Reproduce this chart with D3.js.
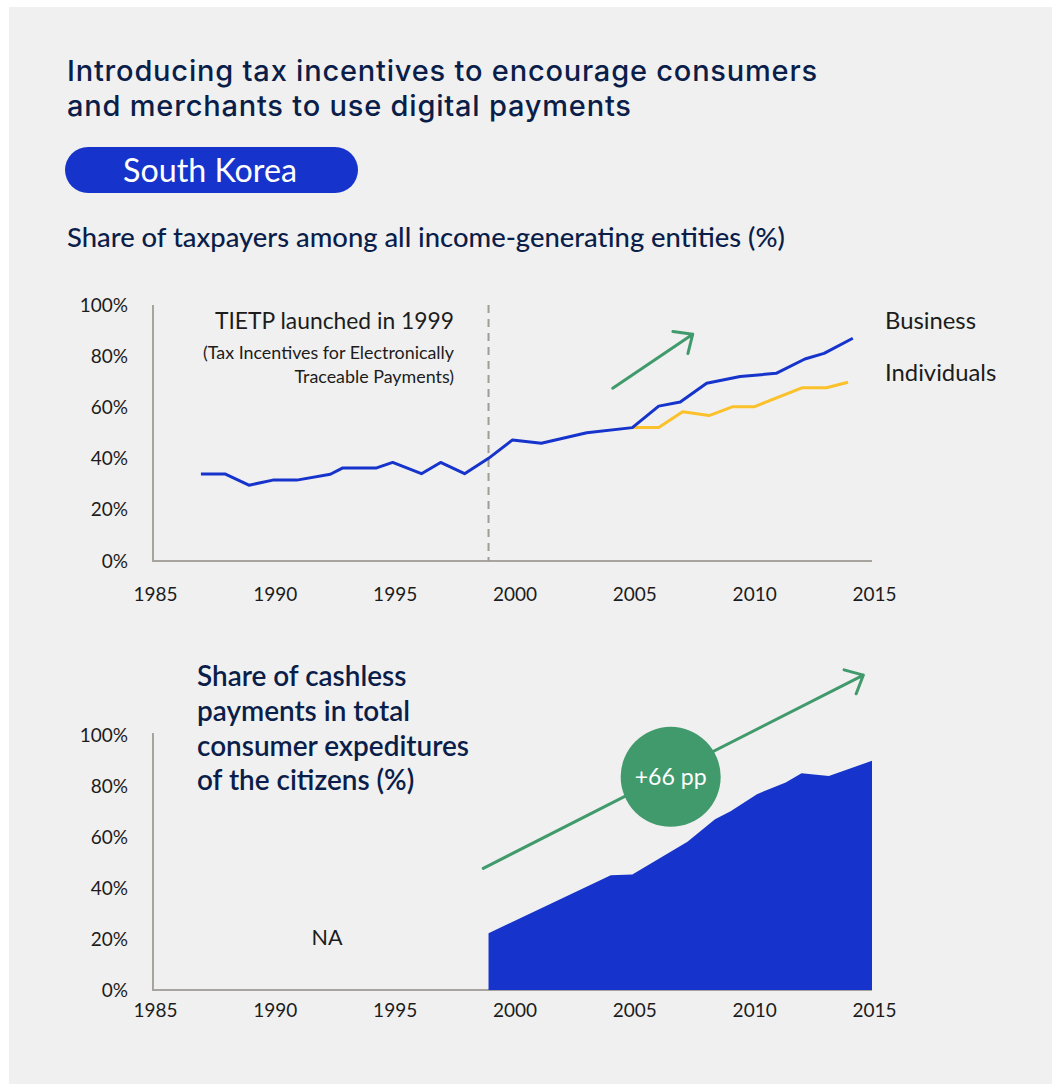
<!DOCTYPE html>
<html>
<head>
<meta charset="utf-8">
<script src="https://cdn.jsdelivr.net/npm/d3@7/dist/d3.min.js"></script>
<style>
  html, body { margin: 0; padding: 0; background: #ffffff; }
  svg { display: block; }
  text { font-family: Lato, "Noto Sans", sans-serif; }
</style>
</head>
<body>
<svg id="chart" width="1052" height="1084"></svg>
<script>
// ---------- DATA ----------
const xTicks = [1985, 1990, 1995, 2000, 2005, 2010, 2015];
const yTicks = [0, 20, 40, 60, 80, 100];

const businessYears = [1987, 1988, 1989, 1990, 1991, 1992.4, 1992.9, 1994.3, 1995, 1996.2, 1997, 1998, 1999, 2000, 2001.2, 2003.1, 2005, 2006.1, 2007, 2008.1, 2009.5, 2011, 2012.2, 2013, 2014.2];
const businessValues = [34, 34, 29.6, 31.6, 31.6, 33.9, 36.3, 36.3, 38.5, 34.1, 38.5, 34.1, 40.1, 47.3, 46, 50.1, 52.1, 60.5, 62.1, 69.4, 72.1, 73.3, 78.9, 81.1, 87];

const individualYears = [2005, 2006.1, 2007.1, 2008.2, 2009.2, 2010.1, 2012.1, 2013.1, 2014];
const individualValues = [52.1, 52.1, 58.3, 56.8, 60.3, 60.3, 67.7, 67.7, 69.8];

const cashlessYears = [1999, 2004.1, 2005, 2007.3, 2008.45, 2009.1, 2010.2, 2011.4, 2012.06, 2013.2, 2015];
const cashlessValues = [22.3, 45, 45.3, 58.1, 67, 70.1, 76.8, 81.4, 85, 83.9, 89.9];

const launchYear = 1999;
const growthLabel = "+66 pp";

// ---------- STYLE ----------
const NAVY = "#0b1e4a";
const BLUE = "#1634cc";
const YELLOW = "#fbc12a";
const GREEN = "#419a6c";
const AXIS = "#a7a39f";
const INK = "#1c1c1c";

const svg = d3.select("#chart");

// card background
svg.append("rect").attr("x", 9).attr("y", 7).attr("width", 1043).attr("height", 1077).attr("fill", "#f0f0f0");

function fit(sel, target) {
  const fs = parseFloat(sel.attr("font-size"));
  const w = sel.node().getComputedTextLength();
  if (w > 0) sel.attr("font-size", (fs * target / w).toFixed(2));
  return parseFloat(sel.attr("font-size"));
}

// ---------- TITLE ----------
const t1 = svg.append("text").attr("x", 67).attr("y", 81).attr("fill", NAVY)
  .style("font-family", "Inter, Roboto, Lato, sans-serif")
  .attr("font-size", 29).attr("font-weight", 500).text("Introducing tax incentives to encourage consumers");
const w1 = t1.node().getComputedTextLength();
const titleLS = Math.max(0, Math.min(0.8, (755 - w1) / t1.text().length));
t1.attr("letter-spacing", titleLS.toFixed(3));
svg.append("text").attr("x", 67).attr("y", 116).attr("fill", NAVY)
  .style("font-family", "Inter, Roboto, Lato, sans-serif")
  .attr("font-size", 29).attr("font-weight", 500).attr("letter-spacing", titleLS.toFixed(3))
  .text("and merchants to use digital payments");

// pill
svg.append("rect").attr("x", 65).attr("y", 147).attr("width", 293).attr("height", 46).attr("rx", 23).attr("fill", BLUE);
const pill = svg.append("text").attr("x", 210).attr("y", 182).attr("text-anchor", "middle").attr("fill", "#ffffff")
  .attr("font-size", 28).attr("font-weight", 400).text("South Korea");
fit(pill, 174);

const sub = svg.append("text").attr("x", 67).attr("y", 247).attr("fill", NAVY)
  .attr("font-size", 21).attr("font-weight", 500).text("Share of taxpayers among all income-generating entities (%)");
fit(sub, 718);

// ---------- SCALES ----------
const x = d3.scaleLinear().domain([1985, 2015]).range([153, 872]);
const yTop = d3.scaleLinear().domain([0, 100]).range([561, 305]);
const yBot = d3.scaleLinear().domain([0, 100]).range([990, 735]);

function drawAxes(y, yTopPix, xPad) {
  const yAxis = d3.axisLeft(y).tickValues(yTicks).tickSize(0).tickPadding(25).tickFormat(d => d + "%");
  const ga = svg.append("g").attr("transform", `translate(${x(1985)},0)`).call(yAxis);
  ga.select(".domain").remove();
  ga.selectAll("text").attr("font-family", "Lato, sans-serif").attr("font-size", 19).attr("fill", INK);
  const xAxis = d3.axisBottom(x).tickValues(xTicks).tickSize(0).tickPadding(xPad).tickFormat(d3.format("d"));
  const gx = svg.append("g").attr("transform", `translate(2,${y(0)})`).call(xAxis);
  gx.select(".domain").remove();
  gx.selectAll("text").attr("font-family", "Lato, sans-serif").attr("font-size", 19).attr("fill", INK);
  svg.append("path")
    .attr("d", `M${x(1985)},${yTopPix}V${y(0)}H${x(2015)}`)
    .attr("fill", "none").attr("stroke", AXIS).attr("stroke-width", 2);
}

// ---------- TOP CHART ----------
drawAxes(yTop, 305, 27);

svg.append("line")
  .attr("x1", x(launchYear)).attr("x2", x(launchYear))
  .attr("y1", yTop(100)).attr("y2", yTop(0))
  .attr("stroke", "#a09c98").attr("stroke-width", 2).attr("stroke-dasharray", "8,6");

const line = d3.line().x(d => x(d[0])).y(d => yTop(d[1]));
svg.append("path").datum(d3.zip(individualYears, individualValues))
  .attr("d", line).attr("fill", "none").attr("stroke", YELLOW).attr("stroke-width", 3).attr("stroke-linejoin", "round");
svg.append("path").datum(d3.zip(businessYears, businessValues))
  .attr("d", line).attr("fill", "none").attr("stroke", BLUE).attr("stroke-width", 3).attr("stroke-linejoin", "round");

const tietp = svg.append("text").attr("x", 454).attr("y", 329).attr("text-anchor", "end").attr("fill", INK)
  .attr("font-size", 21).text("TIETP launched in 1999");
fit(tietp, 239);
const tx = svg.append("text").attr("x", 454).attr("y", 359).attr("text-anchor", "end").attr("fill", INK)
  .attr("font-size", 15).text("(Tax Incentives for Electronically");
const smallSize = fit(tx, 251);
svg.append("text").attr("x", 454).attr("y", 383).attr("text-anchor", "end").attr("fill", INK)
  .attr("font-size", smallSize).text("Traceable Payments)");

const bl = svg.append("text").attr("x", 885).attr("y", 329).attr("fill", INK).attr("font-size", 21).text("Business");
const legSize = fit(bl, 91);
svg.append("text").attr("x", 885).attr("y", 381).attr("fill", INK).attr("font-size", legSize).text("Individuals");

function arrow(x1, y1, x2, y2) {
  const ang = Math.atan2(y2 - y1, x2 - x1);
  const L = 20, spread = 42 * Math.PI / 180;
  const back = ang + Math.PI;
  const a1 = [x2 + L * Math.cos(back - spread), y2 + L * Math.sin(back - spread)];
  const a2 = [x2 + L * Math.cos(back + spread), y2 + L * Math.sin(back + spread)];
  svg.append("path")
    .attr("d", `M${x1},${y1}L${x2},${y2}M${a1[0]},${a1[1]}L${x2},${y2}L${a2[0]},${a2[1]}`)
    .attr("fill", "none").attr("stroke", GREEN).attr("stroke-width", 3).attr("stroke-linecap", "round").attr("stroke-linejoin", "round");
}
arrow(x(2004.18), yTop(67.5), x(2007.52), yTop(88.6));

// ---------- BOTTOM CHART ----------
drawAxes(yBot, 733, 14);

const area = d3.area().x(d => x(d[0])).y0(yBot(0)).y1(d => yBot(d[1]));
svg.append("path").datum(d3.zip(cashlessYears, cashlessValues))
  .attr("d", area).attr("fill", BLUE);

arrow(x(1998.78), yBot(47.7), x(2014.64), yBot(123.5));

svg.append("circle").attr("cx", x(2006.6)).attr("cy", yBot(83.6)).attr("r", 50).attr("fill", GREEN);
const pp = svg.append("text").attr("x", x(2006.6)).attr("y", yBot(83.6) + 8).attr("text-anchor", "middle")
  .attr("fill", "#ffffff").attr("font-size", 22).text(growthLabel);
fit(pp, 72);

const bt = ["Share of cashless", "payments in total", "consumer expeditures", "of the citizens (%)"];
const btBase = [686, 721, 756, 790];
const probe = svg.append("text").attr("font-size", 24).attr("font-weight", 600).text(bt[2]);
const btSize = fit(probe, 272);
probe.remove();
bt.forEach((s, i) => {
  svg.append("text").attr("x", 197).attr("y", btBase[i]).attr("fill", NAVY)
    .attr("font-size", btSize).attr("font-weight", 600).text(s);
});

const na = svg.append("text").attr("x", 327).attr("y", 945).attr("text-anchor", "middle").attr("fill", INK)
  .attr("font-size", 21).text("NA");
fit(na, 31);
</script>
</body>
</html>
